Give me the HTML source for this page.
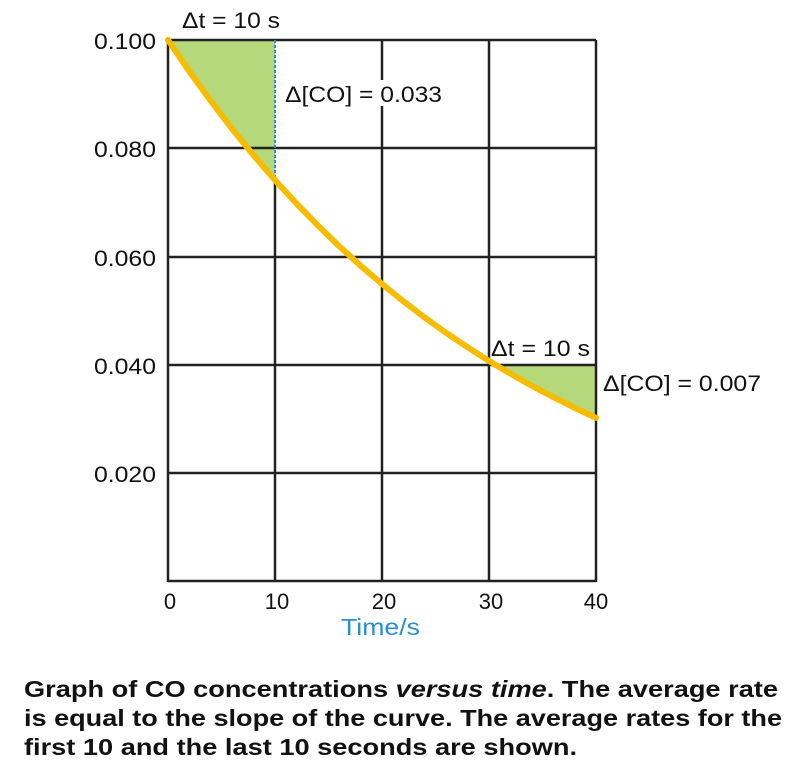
<!DOCTYPE html><html><head><style>body{margin:0;background:#fff;width:787px;height:765px;overflow:hidden;font-family:"Liberation Sans",Arial,sans-serif}</style></head><body>
<svg width="787" height="765" style="position:absolute;left:0;top:0" font-family="Liberation Sans, Arial, sans-serif">
<polygon fill="#b5d97a" points="168,40 275,40 275,180.1 253.6,155.3 232.2,129 210.8,101 189.4,71.5"/>
<polygon fill="#b5d97a" points="489,364 596,364 596,417.9 574.6,407.8 553.2,397.1 531.8,385.8 510.4,373.7 489,360.9"/>
<g stroke="#222" stroke-width="2.5" fill="none">
<line x1="168" y1="40" x2="168" y2="582"/><line x1="382" y1="40" x2="382" y2="582"/><line x1="489" y1="40" x2="489" y2="582"/><line x1="596" y1="40" x2="596" y2="582"/>
<line x1="275" y1="180" x2="275" y2="582"/>
<line x1="168" y1="40" x2="596" y2="40"/><line x1="168" y1="148" x2="596" y2="148"/><line x1="168" y1="257" x2="596" y2="257"/><line x1="168" y1="365" x2="596" y2="365"/><line x1="168" y1="473" x2="596" y2="473"/><line x1="168" y1="581" x2="596" y2="581"/>
</g>
<line x1="275" y1="40" x2="275" y2="180" stroke="#2a8fd0" stroke-width="2" stroke-dasharray="3,2"/>
<rect x="280" y="80" width="165" height="26" fill="#fff"/>
<polyline fill="none" stroke="#f5bc00" stroke-width="6" stroke-linecap="round" points="168,40 189.4,71.5 210.8,101 232.2,129 253.6,155.3 275,180.1 296.4,203.4 317.8,225.4 339.2,246.2 360.6,265.7 382,284 403.4,301.3 424.8,317.6 446.2,332.9 467.6,347.3 489,360.9 510.4,373.7 531.8,385.8 553.2,397.1 574.6,407.8 596,417.9"/>
<g font-size="22" fill="#111">
<text x="94" y="49" textLength="62" lengthAdjust="spacingAndGlyphs">0.100</text>
<text x="94" y="157" textLength="62" lengthAdjust="spacingAndGlyphs">0.080</text>
<text x="94" y="266" textLength="62" lengthAdjust="spacingAndGlyphs">0.060</text>
<text x="94" y="374" textLength="62" lengthAdjust="spacingAndGlyphs">0.040</text>
<text x="94" y="482" textLength="62" lengthAdjust="spacingAndGlyphs">0.020</text>
<text x="170" y="609" text-anchor="middle">0</text>
<text x="277" y="609" text-anchor="middle">10</text>
<text x="384" y="609" text-anchor="middle">20</text>
<text x="491" y="609" text-anchor="middle">30</text>
<text x="596" y="609" text-anchor="middle">40</text>
<text x="182" y="28" textLength="98" lengthAdjust="spacingAndGlyphs">Δt = 10 s</text>
<text x="285" y="102" textLength="157" lengthAdjust="spacingAndGlyphs">Δ[CO] = 0.033</text>
<text x="491" y="356" textLength="99" lengthAdjust="spacingAndGlyphs">Δt = 10 s</text>
<text x="603" y="391" textLength="158" lengthAdjust="spacingAndGlyphs">Δ[CO] = 0.007</text>
</g>
<text x="341" y="635" font-size="23" fill="#2a8fd0" textLength="79" lengthAdjust="spacingAndGlyphs">Time/s</text>
<g font-size="23.5" font-weight="bold" fill="#111">
<text x="24" y="697" textLength="754" lengthAdjust="spacingAndGlyphs">Graph of CO concentrations <tspan font-style="italic">versus time</tspan>. The average rate</text>
<text x="24" y="726" textLength="758" lengthAdjust="spacingAndGlyphs">is equal to the slope of the curve. The average rates for the</text>
<text x="24" y="755" textLength="553" lengthAdjust="spacingAndGlyphs">first 10 and the last 10 seconds are shown.</text>
</g>
</svg></body></html>
